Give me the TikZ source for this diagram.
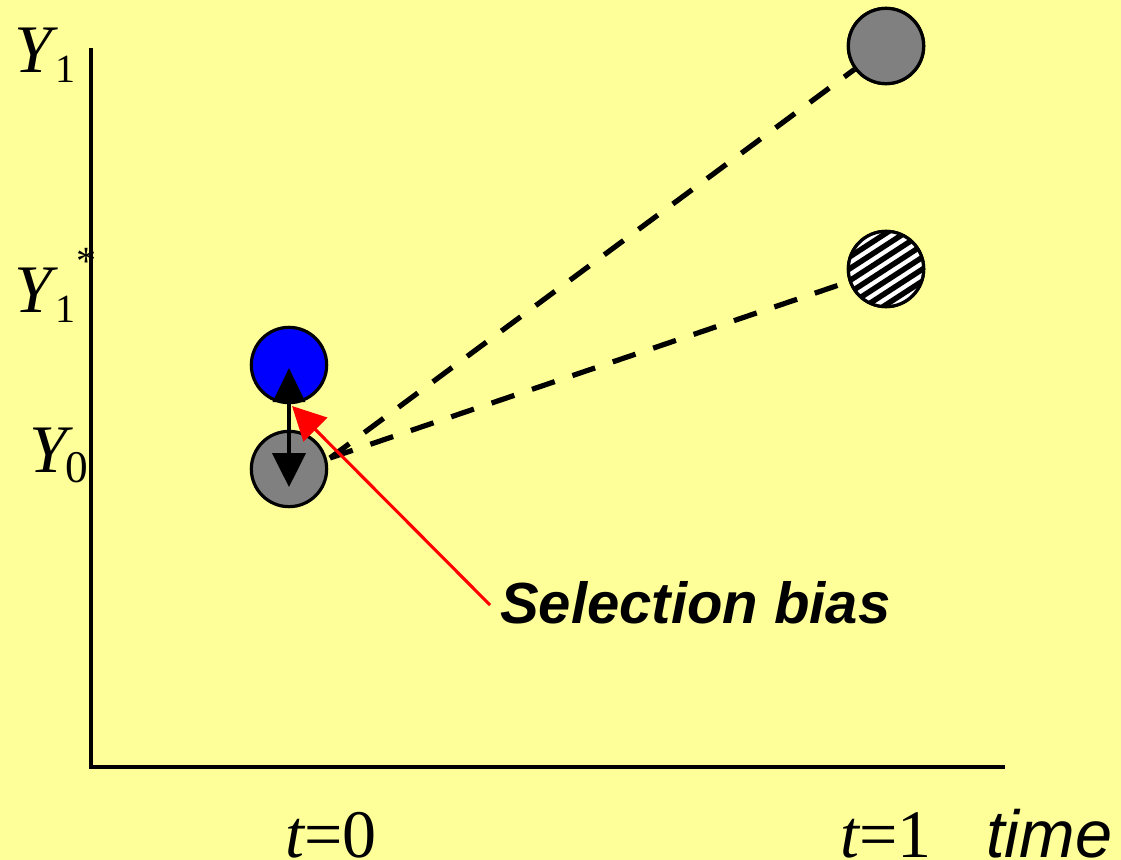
\documentclass[tikz,border=0pt]{standalone}
\usepackage{fontspec}
\setmainfont{Liberation Serif}
\newfontfamily\arialfont{Liberation Sans}
\usetikzlibrary{arrows.meta}
\definecolor{bgyellow}{HTML}{FFFF99}
\definecolor{dotgray}{HTML}{808080}
\begin{document}
\begin{tikzpicture}[x=0.75pt,y=-0.75pt,
  dot/.style={circle, draw=black, line width=2.4pt, minimum size=56.5pt, inner sep=0pt},
  lbl/.style={inner sep=0pt, anchor=base west},
  big/.style={font=\fontsize{51}{60}\selectfont},
  subsc/.style={font=\fontsize{30}{36}\selectfont},
  dashline/.style={line width=3.9pt, dash pattern=on 18pt off 14pt},
  axis/.style={line width=2.3pt},
]
\useasboundingbox[fill=bgyellow] (0,0) rectangle (1121,860);
% axes
\coordinate (ytop) at (91,48);
\coordinate (orig) at (91,767);
\coordinate (xend) at (1005,767);
\draw[axis] (ytop) -- (orig) -- (xend);
% axis labels
\node[lbl,big] (y1) at (14,72) {\itshape Y};
\node[lbl,subsc] (y1s) at (55,82) {1};
\node[lbl,big] (y1b) at (14,312) {\itshape Y};
\node[lbl,subsc] (y1bs) at (55,322) {1};
\node[lbl,subsc] (y1st) at (76,274) {*};
\node[lbl,big] (y0) at (29,472) {\itshape Y};
\node[lbl,font=\fontsize{34}{40}\selectfont] (y0s) at (65,482) {0};
\node[lbl,big] (t0) at (285,857) {\itshape t\upshape =0};
\node[lbl,big] (t1) at (840,857) {\itshape t\upshape =1};
\node[lbl,font=\arialfont\itshape\fontsize{50}{60}\selectfont] (time) at (986,857) {time};
\node[lbl,font=\arialfont\bfseries\itshape\fontsize{43.5}{52}\selectfont] (sel) at (500,623) {Selection bias};
% circles
\coordinate (s) at (330,458);
\node[dot, fill=blue] (blue) at (289,365) {};
\node[dot, fill=dotgray] (g0) at (289,469) {};
\node[dot, fill=dotgray] (g1) at (886,46) {};
\node[dot, fill=white] (h1) at (886,269) {};
% dashed lines
\draw[dashline] (s) -- (g1);
\draw[dashline] (s) -- (h1);
% redraw g1 on top
\node[dot, fill=dotgray] at (g1) {};
% hatched circle
\begin{scope}
  \clip (886,269) circle (38);
  \fill[white] (886,269) circle (38);
  \begin{scope}[shift={(886,269)}, rotate=33]
    \foreach \k in {-60,-50,...,60} {
      \draw[line width=4.1pt] (-70,\k) -- (70,\k);
    }
  \end{scope}
\end{scope}
\node[dot] at (h1) {};
% black double arrow
\coordinate (atop) at (289,368);
\coordinate (abot) at (289,487);
\draw[line width=2.5pt, {Triangle[length=25.5pt,width=24pt]}-{Triangle[length=25.5pt,width=25pt]}] (atop) -- (abot);
% red arrow
\coordinate (rtail) at (490,605);
\coordinate (rtip) at (292,406);
\draw[red, line width=2.3pt, -{Triangle[length=25pt,width=25pt]}] (rtail) -- (rtip);
\end{tikzpicture}
\end{document}
